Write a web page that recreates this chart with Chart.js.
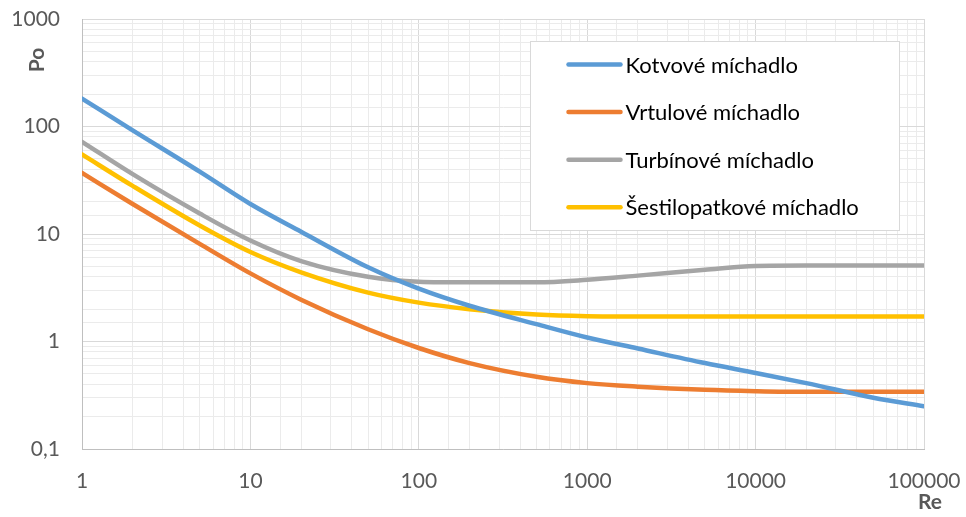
<!DOCTYPE html>
<html>
<head>
<meta charset="utf-8">
<script src="https://cdn.jsdelivr.net/npm/chart.js@4/dist/chart.umd.min.js"></script>
<style>
  html, body { margin: 0; padding: 0; background: #fff; }
  #wrap { width: 966px; height: 517px; position: relative; }
</style>
</head>
<body>
<div id="wrap"><canvas id="po-chart"></canvas></div>
<script>
const re = [1, 2, 5, 10, 20, 50, 100, 200, 500, 1000, 2000, 5000, 10000, 20000, 50000, 100000];
const kotvove = [182, 92, 38, 19, 10.5, 4.9, 3.1, 2.15, 1.45, 1.09, 0.86, 0.63, 0.51, 0.41, 0.3, 0.25];
const vrtulove = [37, 19, 8.1, 4.3, 2.45, 1.3, 0.87, 0.63, 0.47, 0.41, 0.38, 0.355, 0.345, 0.34, 0.34, 0.34];
const turbinove = [72, 36, 15.5, 8.7, 5.6, 4.0, 3.6, 3.55, 3.55, 3.75, 4.1, 4.65, 5.05, 5.1, 5.1, 5.1];
const sestilopatkove = [55, 28, 12, 6.8, 4.4, 2.85, 2.3, 2.0, 1.78, 1.72, 1.71, 1.71, 1.71, 1.71, 1.71, 1.71];
const seriesNames = ["Kotvové míchadlo", "Vrtulové míchadlo", "Turbínové míchadlo", "Šestilopatkové míchadlo"];
const seriesColors = ["#5b9bd5", "#ed7d31", "#a5a5a5", "#ffc000"];

const FONT = "Lato, 'Liberation Sans', sans-serif";

function isDecade(v) {
  const l = Math.log10(v);
  return Math.abs(l - Math.round(l)) < 1e-9;
}

function makeSet(i, values) {
  return {
    label: seriesNames[i],
    data: re.map((x, k) => ({ x: x, y: values[k] })),
    borderColor: seriesColors[i],
    backgroundColor: seriesColors[i],
    borderWidth: 4.5,
    pointRadius: 0,
    showLine: true,
    cubicInterpolationMode: "monotone",
    borderCapStyle: "round",
  };
}

// the scales must not ask for extra room around the plot
function fixSize(s, w, h) {
  if (w !== null) s.width = w;
  if (h !== null) s.height = h;
  s.paddingTop = 0;
  s.paddingBottom = 0;
  s.paddingLeft = 0;
  s.paddingRight = 0;
}

// legend box inside the plot + axis titles
const extras = {
  id: "extras",
  afterDraw(chart) {
    const ctx = chart.ctx;
    const area = chart.chartArea;
    const boxW = 369, boxH = 189;
    const bx = Math.round(area.right - 25 - boxW) + 0.5;
    const by = Math.round(area.top + 22) + 0.5;
    ctx.save();
    ctx.fillStyle = "#fff";
    ctx.fillRect(bx, by, boxW, boxH);
    ctx.strokeStyle = "#d9d9d9";
    ctx.lineWidth = 1;
    ctx.strokeRect(bx, by, boxW, boxH);
    ctx.font = "22px " + FONT;
    ctx.textBaseline = "middle";
    ctx.fillStyle = "#000";
    chart.data.datasets.forEach((ds, i) => {
      const y = by + 23 + i * 47.6;
      ctx.strokeStyle = ds.borderColor;
      ctx.lineWidth = 4.5;
      ctx.lineCap = "round";
      ctx.beginPath();
      ctx.moveTo(bx + 38, y);
      ctx.lineTo(bx + 90, y);
      ctx.stroke();
      ctx.fillText(ds.label, bx + 95, y + 1);
    });

    ctx.fillStyle = "#595959";
    ctx.font = "bold 21px " + FONT;
    ctx.textAlign = "center";
    ctx.textBaseline = "middle";
    ctx.fillText("Re", 930, 502);
    ctx.translate(37, 60);
    ctx.rotate(-Math.PI / 2);
    ctx.fillText("Po", 0, 0);
    ctx.restore();
  }
};

new Chart(document.getElementById("po-chart"), {
  type: "scatter",
  data: {
    datasets: [
      makeSet(0, kotvove),
      makeSet(1, vrtulove),
      makeSet(2, turbinove),
      makeSet(3, sestilopatkove),
    ],
  },
  options: {
    responsive: true,
    maintainAspectRatio: false,
    animation: false,
    layout: { padding: { top: 19, right: 42, left: 0, bottom: 0 } },
    plugins: {
      legend: { display: false },
      tooltip: { enabled: false },
    },
    scales: {
      x: {
        type: "logarithmic",
        min: 1,
        max: 100000,
        afterFit: (s) => fixSize(s, null, 68),
        border: { color: "#bfbfbf", width: 1 },
        grid: {
          drawTicks: false,
          color: (c) => (c.tick && isDecade(c.tick.value) ? "#d9d9d9" : "#ebebeb"),
        },
        ticks: {
          autoSkip: false,
          maxRotation: 0,
          padding: 20,
          color: "#595959",
          font: { family: FONT, size: 21 },
          callback: (v) => (isDecade(v) ? String(v) : ""),
        },
      },
      y: {
        type: "logarithmic",
        min: 0.1,
        max: 1000,
        afterFit: (s) => fixSize(s, 82, null),
        border: { color: "#bfbfbf", width: 1 },
        grid: {
          drawTicks: false,
          color: (c) => (c.tick && isDecade(c.tick.value) ? "#d9d9d9" : "#ebebeb"),
        },
        ticks: {
          autoSkip: false,
          padding: 22,
          color: "#595959",
          font: { family: FONT, size: 21 },
          callback: (v) => (isDecade(v) ? String(v).replace(".", ",") : ""),
        },
      },
    },
  },
  plugins: [extras],
});
</script>
</body>
</html>
